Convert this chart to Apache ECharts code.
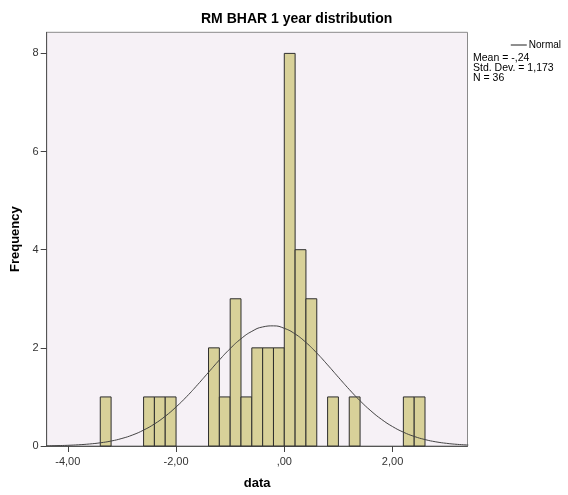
<!DOCTYPE html>
<html>
<head>
<meta charset="utf-8">
<script src="https://cdn.jsdelivr.net/npm/echarts@6/dist/echarts.min.js"></script>
<style>html,body{margin:0;padding:0;background:#fff}#c{width:568px;height:495px}</style>
</head>
<body>
<div id="c"></div>
<script>
// Histogram bins (lower edge, upper edge) and frequencies
var binLow  = [-3.4, -2.6, -2.4, -2.2, -1.4, -1.2, -1.0, -0.8, -0.6, -0.4, -0.2, 0.0, 0.2, 0.4, 0.8, 1.2, 2.2, 2.4];
var binHigh = [-3.2, -2.4, -2.2, -2.0, -1.2, -1.0, -0.8, -0.6, -0.4, -0.2, 0.0, 0.2, 0.4, 0.6, 1.0, 1.4, 2.4, 2.6];
var counts  = [1, 1, 1, 1, 2, 1, 3, 1, 2, 2, 2, 8, 4, 3, 1, 1, 1, 1];
// Normal curve points
var curveX = [-4.4,-4.2,-4.0,-3.8,-3.6,-3.4,-3.2,-3.0,-2.8,-2.6,-2.4,-2.2,-2.0,-1.8,-1.6,-1.4,-1.2,-1.0,-0.8,-0.6,-0.4,-0.2,0.0,0.2,0.4,0.6,0.8,1.0,1.2,1.4,1.6,1.8,2.0,2.2,2.4,2.6,2.8,3.0,3.2,3.4];
var curveY = [0.005,0.008,0.014,0.025,0.041,0.065,0.101,0.154,0.226,0.324,0.449,0.606,0.795,1.011,1.251,1.502,1.752,1.985,2.185,2.336,2.426,2.448,2.398,2.283,2.110,1.895,1.653,1.401,1.153,0.922,0.716,0.540,0.396,0.282,0.195,0.131,0.085,0.054,0.033,0.020];
var xTicks = [-4, -2, 0, 2];
var xTickLabels = ['-4,00', '-2,00', ',00', '2,00'];
var yTicks = [0, 2, 4, 6, 8];
var statLines = ['Mean = -,24', 'Std. Dev. = 1,173', 'N = 36'];

var bars = binLow.map(function (l, i) { return [l, binHigh[i], counts[i]]; });
var curve = curveX.map(function (x, i) { return [x, curveY[i]]; });

var chart = echarts.init(document.getElementById('c'));
var font = 'Liberation Sans, Arial, sans-serif';
chart.setOption({
  animation: false,
  backgroundColor: '#ffffff',
  title: {
    text: 'RM BHAR 1 year distribution',
    left: 196, top: 7,
    textStyle: { fontFamily: font, fontSize: 14, fontWeight: 'bold', color: '#000' }
  },
  legend: {
    data: [{ name: 'Normal', icon: 'path://M0,0 L16,0 L16,1.2 L0,1.2 Z' }],
    right: 2, top: 35,
    itemWidth: 16, itemHeight: 1.2, itemGap: 2,
    textStyle: { fontFamily: font, fontSize: 10, color: '#000', padding: [0,0,0,-3] }
  },
  graphic: statLines.map(function (t, i) {
    return { type: 'text', left: 473, top: 53 + i * 10,
      style: { text: t, font: '10.5px ' + font, fill: '#000' } };
  }),
  grid: {
    left: 46.7, top: 32.3, right: 100.5, bottom: 49,
    show: true, backgroundColor: '#f6f1f6', borderColor: '#8a8a8a', borderWidth: 1
  },
  xAxis: {
    type: 'value', min: -4.39, max: 3.385,
    name: 'data', nameLocation: 'middle', nameGap: 31,
    nameTextStyle: { fontFamily: font, fontSize: 13, fontWeight: 'bold', color: '#000' },
    axisLine: { show: true, onZero: false, lineStyle: { color: '#555', width: 1 } },
    axisTick: { show: true, customValues: xTicks, length: 6, lineStyle: { color: '#444' } },
    axisLabel: { customValues: xTicks, fontFamily: font, fontSize: 11, color: '#333', margin: 10,
      formatter: function (v) { var i = xTicks.indexOf(Math.round(v)); return i >= 0 ? xTickLabels[i] : ''; } },
    splitLine: { show: false }
  },
  yAxis: {
    type: 'value', min: 0, max: 8.43,
    name: 'Frequency', nameLocation: 'middle', nameGap: 24, nameRotate: 90,
    nameTextStyle: { fontFamily: font, fontSize: 13, fontWeight: 'bold', color: '#000' },
    axisLine: { show: true, onZero: false, lineStyle: { color: '#555', width: 1 } },
    axisTick: { show: true, customValues: yTicks, length: 6, lineStyle: { color: '#444' } },
    axisLabel: { customValues: yTicks, fontFamily: font, fontSize: 11, color: '#333', margin: 8 },
    splitLine: { show: false }
  },
  series: [
    {
      type: 'custom',
      name: 'bars',
      data: bars,
      encode: { x: [0, 1], y: 2 },
      renderItem: function (params, api) {
        var p1 = api.coord([api.value(0), api.value(2)]);
        var p2 = api.coord([api.value(1), 0]);
        return {
          type: 'rect',
          shape: { x: p1[0], y: p1[1], width: p2[0] - p1[0], height: p2[1] - p1[1] },
          style: { fill: '#d8d199', stroke: '#2e2e2e', lineWidth: 1 }
        };
      },
      z: 2
    },
    {
      type: 'line',
      name: 'Normal',
      data: curve,
      smooth: true,
      symbol: 'none',
      lineStyle: { color: '#444', width: 1 },
      itemStyle: { color: '#444' },
      z: 3
    }
  ]
});
</script>
</body>
</html>
